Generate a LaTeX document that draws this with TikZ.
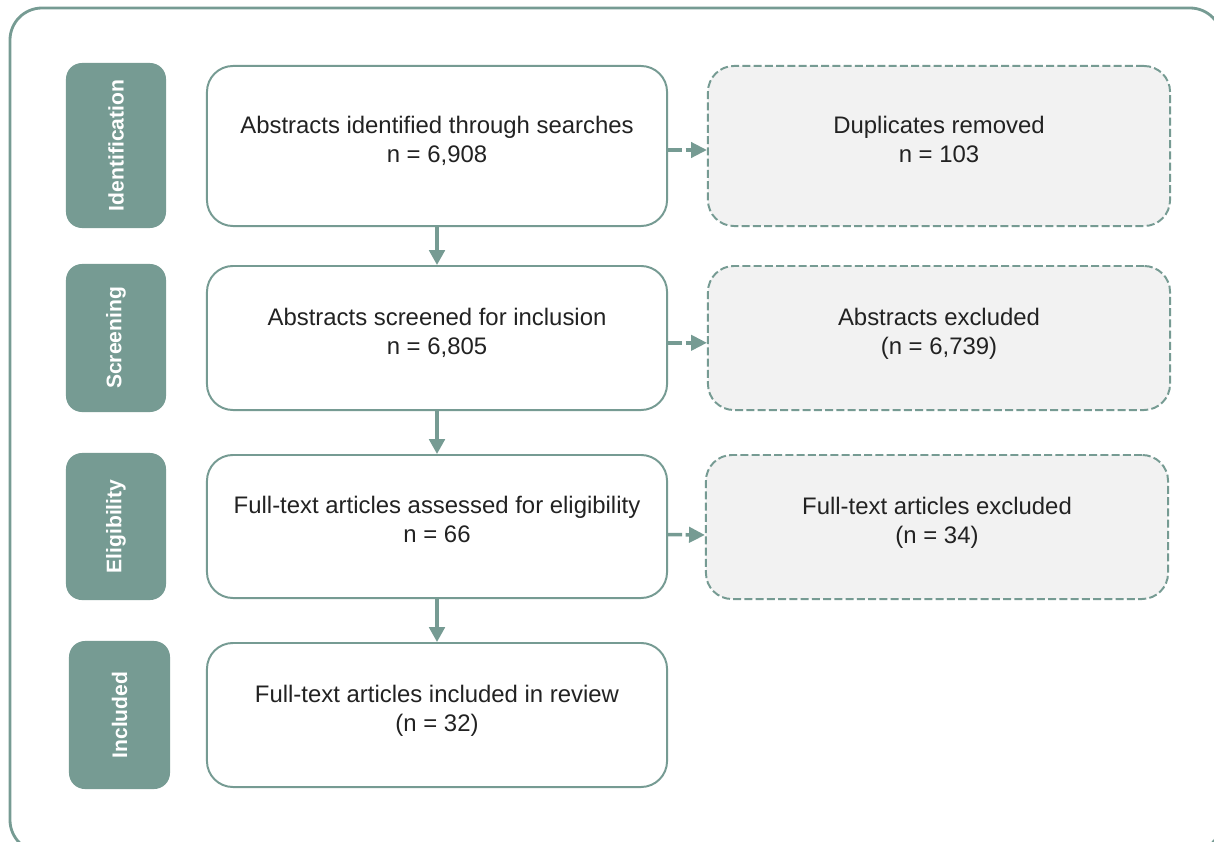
\documentclass[tikz,border=0pt]{standalone}
\usepackage{fontspec}
\setmainfont{Liberation Sans}
\usetikzlibrary{arrows.meta}
\definecolor{prismagreen}{HTML}{769B93}
\definecolor{exclgray}{HTML}{F2F2F2}
\definecolor{prismatext}{HTML}{222222}
\tikzset{
	phase/.style={fill=prismagreen, text=white, rounded corners=0.4cm, rotate=90,
		minimum height=2.5cm, inner sep=0pt, font=\fontsize{15}{18}\selectfont\bfseries},
	stagebox/.style={draw=prismagreen, line width=1.4pt, fill=white, rounded corners=0.65cm,
		minimum width=11.5cm, align=center, text=prismatext, text depth=10pt,
		font=\fontsize{17}{20.5}\selectfont},
	exclbox/.style={stagebox, fill=exclgray, dash pattern=on 5.7pt off 2.3pt},
	flow/.style={draw=prismagreen, line width=2.3pt, -{Triangle[width=11pt,length=10.5pt]}},
	exclflow/.style={draw=prismagreen, line width=2.5pt, dash pattern=on 10pt off 2.5pt,
		-{Triangle[width=10.8pt,length=11.3pt]}},
}
\begin{document}
\begin{tikzpicture}[x=0.025cm, y=-0.025cm]
		\useasboundingbox (0,0) rectangle (1214,841);
		\draw[prismagreen, line width=2pt, rounded corners=0.8cm] (10,8) rectangle (1222,852);
		
		% phases
		\node[phase, minimum width=4.125cm] (identification) at (116,145.5) {Identification};
		\node[phase, minimum width=3.7cm] (screening) at (116,338) {Screening};
		\node[phase, minimum width=3.675cm] (eligibility) at (116,526.5) {Eligibility};
		\node[phase, minimum width=3.7cm, minimum height=2.525cm] (included) at (119.5,715) {Included};
		
		% main flow
		\node[stagebox, minimum height=4cm] (identified) at (437,146) {Abstracts identified through searches\\n = 6,908};
		\node[stagebox, minimum height=3.6cm] (screened) at (437,338) {Abstracts screened for inclusion\\n = 6,805};
		\node[stagebox, minimum height=3.575cm] (assessed) at (437,526.5) {Full-text articles assessed for eligibility\\n = 66};
		\node[stagebox, minimum height=3.6cm] (reviewed) at (437,715) {Full-text articles included in review\\(n = 32)};
		
		% exclusions
		\node[exclbox, minimum width=11.55cm, minimum height=4cm] (duplicates) at (939,146) {Duplicates removed\\n = 103};
		\node[exclbox, minimum width=11.55cm, minimum height=3.6cm] (absexcl) at (939,338) {Abstracts excluded\\(n = 6,739)};
		\node[exclbox, minimum width=11.55cm, minimum height=3.6cm] (ftexcl) at (937,527) {Full-text articles excluded\\(n = 34)};
		
		\draw[flow] (identified.south) -- (screened.north);
		\draw[flow] (screened.south) -- (assessed.north);
		\draw[flow] (assessed.south) -- (reviewed.north);
		
		\draw[exclflow] ([yshift=-0.1cm]identified.east) -- ([yshift=-0.1cm]duplicates.west);
		\draw[exclflow] ([yshift=-0.12cm]screened.east) -- ([yshift=-0.12cm]absexcl.west);
		\draw[exclflow] ([yshift=-0.2cm]assessed.east) -- ([yshift=-0.2cm]ftexcl.west);
	\end{tikzpicture}
\end{document}
